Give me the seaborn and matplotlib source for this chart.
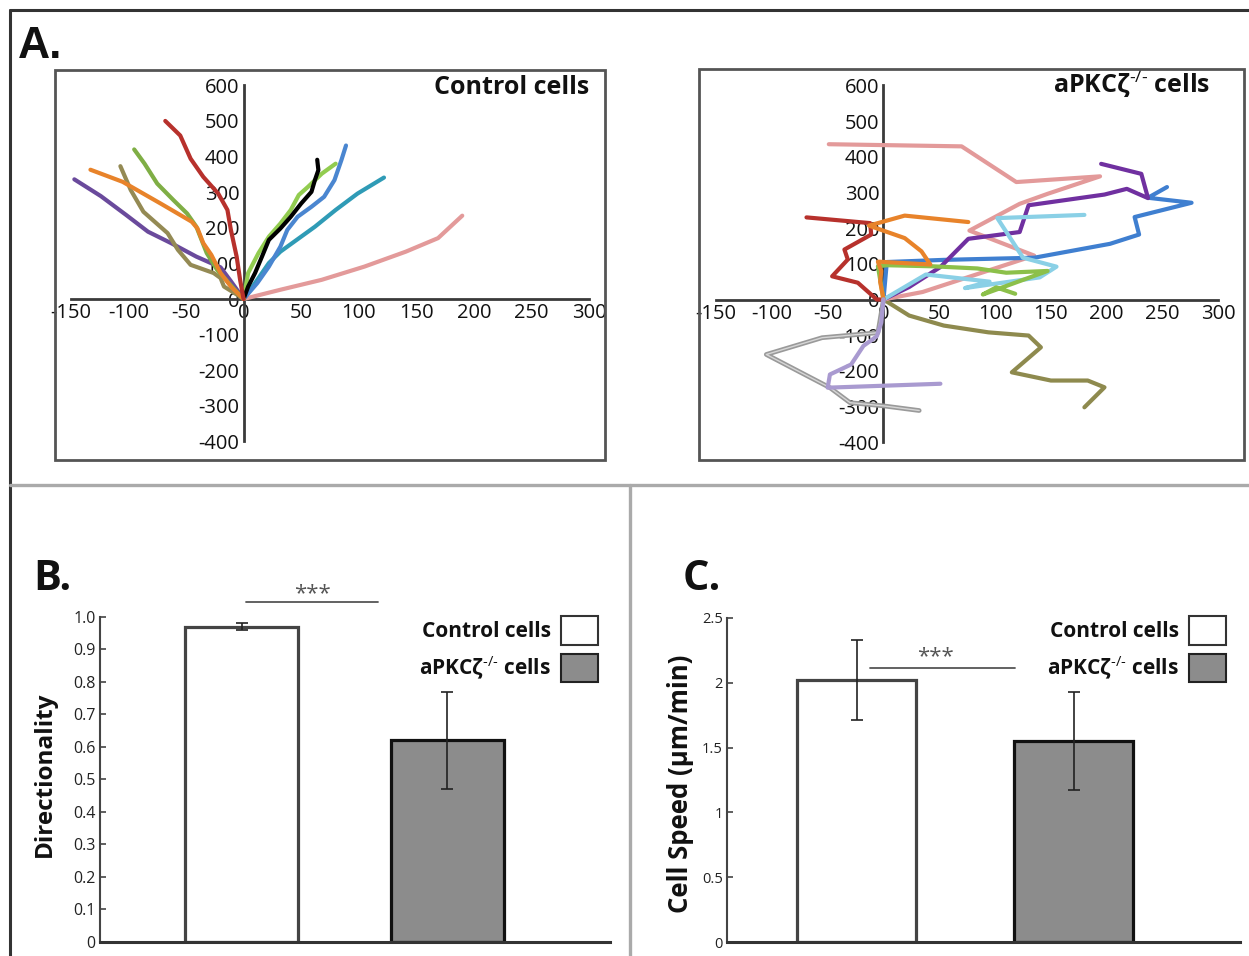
import matplotlib
matplotlib.use("Agg")
import matplotlib.pyplot as plt
import numpy as np
import seaborn as sns
from matplotlib.patches import Patch, Rectangle
from matplotlib.lines import Line2D

## Data
# control cell tracks (x, y in um), read off panel A left
c_red = [(0, 0), (-3, 54), (-6, 119), (-11, 194), (-14, 250), (-22, 296), (-35, 343), (-46, 394), (-55, 459), (-68, 500)]
c_orange = [(0, 0), (-11, 35), (-20, 73), (-28, 124), (-35, 157), (-40, 198), (-45, 217), (-72, 268), (-105, 329), (-133, 363)]
c_green = [(0, 0), (-9, 31), (-23, 82), (-32, 129), (-41, 203), (-49, 240), (-61, 278), (-75, 324), (-86, 380), (-95, 420)]
c_khaki = [(0, 0), (-8, 17), (-17, 35), (-20, 59), (-26, 73), (-46, 96), (-57, 138), (-66, 185), (-87, 245), (-98, 306), (-107, 373)]
c_purple = [(0, 0), (-11, 50), (-20, 89), (-41, 119), (-63, 157), (-83, 189), (-102, 236), (-124, 289), (-147, 336)]
c_black = [(0, 0), (4, 35), (10, 73), (16, 119), (22, 166), (32, 198), (41, 231), (50, 268), (59, 301), (62, 334), (65, 362), (64, 391)]
c_lime = [(0, 0), (4, 73), (13, 129), (22, 175), (32, 212), (41, 250), (48, 292), (56, 315), (68, 352), (80, 380)]
c_blue = [(0, 0), (12, 45), (22, 91), (32, 147), (38, 194), (47, 231), (59, 259), (70, 287), (79, 334), (85, 390), (89, 431)]
c_teal = [(0, 0), (10, 45), (22, 101), (32, 133), (50, 175), (62, 203), (80, 250), (99, 296), (122, 341)]
c_pink = [(0, 0), (32, 26), (68, 54), (105, 91), (141, 133), (169, 171), (190, 234)]

# aPKCzeta-/- cell tracks, panel A right
a_pink = [(0, 0), (35, 21), (85, 72), (135, 123), (77, 193), (122, 268), (147, 296), (194, 345), (119, 329), (70, 429), (-49, 435)]
a_purple = [(0, 0), (23, 35), (51, 91), (76, 170), (122, 189), (130, 264), (198, 294), (218, 310), (237, 284), (231, 352), (195, 380)]
a_blue = [(0, 0), (3, 105), (54, 111), (135, 117), (203, 156), (229, 182), (225, 231), (276, 271), (237, 285), (254, 315)]
a_cyan = [(0, 0), (38, 70), (95, 50), (73, 32), (140, 62), (155, 92), (125, 117), (102, 228), (180, 237)]
a_red = [(0, 0), (-6, 0), (-23, 47), (-46, 65), (-32, 112), (-35, 140), (-11, 182), (-12, 214), (-69, 230)]
a_orange = [(0, 0), (-3, 50), (-2, 80), (-5, 106), (42, 98), (34, 135), (19, 172), (-13, 207), (19, 235), (76, 217)]
a_green = [(0, 0), (-5, 93), (3, 96), (44, 93), (84, 87), (110, 75), (147, 80), (89, 14), (101, 34), (118, 16)]
a_olive = [(0, 0), (23, -45), (54, -73), (94, -92), (130, -101), (141, -134), (115, -204), (150, -227), (183, -227), (198, -246), (180, -302)]
a_gray = [(0, 0), (-5, -93), (-55, -107), (-105, -154), (-48, -247), (-30, -289), (0, -298), (32, -311)]
a_lavender = [(0, 0), (-2, -65), (-6, -103), (-18, -130), (-29, -182), (-48, -210), (-50, -247), (51, -236)]

track_xticks = [-150, -100, -50, 0, 50, 100, 150, 200, 250, 300]
track_yticks = [-400, -300, -200, -100, 0, 100, 200, 300, 400, 500, 600]

# panels B and C
groups = ["Control cells", "aPKCζ-/- cells"]
directionality = [0.97, 0.62]
directionality_err = [0.01, 0.15]
speed = [2.02, 1.55]
speed_err = [0.31, 0.38]
dir_ticks = [0, 0.1, 0.2, 0.3, 0.4, 0.5, 0.6, 0.7, 0.8, 0.9, 1.0]
dir_labels = ["0", "0.1", "0.2", "0.3", "0.4", "0.5", "0.6", "0.7", "0.8", "0.9", "1.0"]
speed_ticks = [0, 0.5, 1, 1.5, 2, 2.5]
speed_labels = ["0", "0.5", "1", "1.5", "2", "2.5"]

KO_LABEL = r"aPKCζ$^{\text{-/-}}$ cells"

## Style
sns.set_theme(style="white")
plt.rcParams["font.family"] = ["Open Sans", "DejaVu Sans"]
plt.rcParams["mathtext.fontset"] = "custom"
plt.rcParams["mathtext.rm"] = "Open Sans"
plt.rcParams["mathtext.default"] = "regular"
plt.rcParams["axes.unicode_minus"] = False
plt.rcParams["text.color"] = "#111111"

W, H = 1249, 956
fig = plt.figure(figsize=(W / 100, H / 100), dpi=100)


def box(x0, y0, x1, y1):
    # pixel box (top-left origin) -> figure fraction rect
    return [x0 / W, 1 - y1 / H, (x1 - x0) / W, (y1 - y0) / H]


def track_axes(px):
    ax = fig.add_axes(box(*px))
    ax.patch.set_visible(False)
    fig.add_artist(Rectangle((px[0] / W, 1 - px[3] / H), (px[2] - px[0]) / W, (px[3] - px[1]) / H,
                             transform=fig.transFigure, fill=False, ec="#555555", lw=2))
    return ax


def style_track_axes(ax, xlim, ylim):
    ax.set_xlim(xlim)
    ax.set_ylim(ylim)
    ax.set_xlabel("")
    ax.set_ylabel("")
    ax.spines["top"].set_visible(False)
    ax.spines["right"].set_visible(False)
    ax.spines["left"].set_position(("data", 0))
    ax.spines["bottom"].set_position(("data", 0))
    ax.spines["left"].set_bounds(-400, 600)
    ax.spines["bottom"].set_bounds(-150, 300)
    for s in ["left", "bottom"]:
        ax.spines[s].set_color("#3a3a3a")
        ax.spines[s].set_linewidth(2)
        ax.spines[s].set_zorder(1)
    ax.set_xticks(track_xticks)
    ax.set_yticks(track_yticks)
    ax.tick_params(direction="in", length=4, width=1.5, color="#3a3a3a",
                   labelsize=14.5, pad=3, labelcolor="#111111")


def draw_tracks(ax, tracks, colors):
    for pts, col in zip(tracks, colors):
        xs = [p[0] for p in pts]
        ys = [p[1] for p in pts]
        sns.lineplot(x=xs, y=ys, sort=False, estimator=None, color=col,
                     linewidth=3, ax=ax, zorder=3)


## A. tracks
axL = track_axes((55, 70, 605, 460))
draw_tracks(axL,
            [c_pink, c_teal, c_blue, c_lime, c_black, c_purple, c_khaki, c_green, c_orange, c_red],
            ["#e39a9a", "#2f9bb6", "#4a86d0", "#92cc50", "#000000", "#6a4a9c", "#948a54", "#7fae45", "#e8832a", "#b7312c"])
style_track_axes(axL, (-163.8, 314), (-452, 643))
axL.text(0.971, 0.956, "Control cells", transform=axL.transAxes, ha="right", va="center",
         fontsize=18, fontweight="bold")

axR = track_axes((699, 69, 1244, 460))
draw_tracks(axR,
            [a_olive, a_pink, a_blue, a_purple, a_cyan, a_green, a_red, a_orange],
            ["#8e8a4e", "#e39a9a", "#3f7fd0", "#7030a0", "#8ad0e6", "#8cc04a", "#b7312c", "#e8832a"])
# gray track drawn as a double line
gx = [p[0] for p in a_gray]
gy = [p[1] for p in a_gray]
sns.lineplot(x=gx, y=gy, sort=False, estimator=None, color="#9a9a9a", linewidth=3.4, ax=axR, zorder=3)
sns.lineplot(x=gx, y=gy, sort=False, estimator=None, color="#d6d6d6", linewidth=1.0, ax=axR, zorder=3)
lx = [p[0] for p in a_lavender]
ly = [p[1] for p in a_lavender]
sns.lineplot(x=lx, y=ly, sort=False, estimator=None, color="#a99ad0", linewidth=3, ax=axR, zorder=3)
style_track_axes(axR, (-165.3, 323), (-449.6, 645.7))
axR.text(0.938, 0.962, KO_LABEL, transform=axR.transAxes, ha="right", va="center",
         fontsize=18, fontweight="bold")


## B. and C. bars
def bar_panel(px, values, errs, ticks, labels, xlim, ylim, tick_size):
    ax = fig.add_axes(box(*px))
    sns.barplot(x=groups, y=values, hue=groups, palette=["white", "#8c8c8c"],
                saturation=1, width=0.55, legend=False, ax=ax)
    for patch, ec in zip(ax.patches, ["#444444", "#111111"]):
        patch.set_edgecolor(ec)
        patch.set_linewidth(2.3)
    ax.errorbar([0, 1], values, yerr=errs, fmt="none", ecolor="#222222",
                elinewidth=1.2, capsize=4, capthick=1.2, zorder=4)
    ax.set_xlim(xlim)
    ax.set_ylim(ylim)
    ax.set_xticks([])
    ax.set_yticks(ticks)
    ax.set_yticklabels(labels)
    ax.set_xlabel("")
    ax.set_ylabel("")
    ax.spines["top"].set_visible(False)
    ax.spines["right"].set_visible(False)
    ax.spines["left"].set_bounds(0, ticks[-1])
    ax.spines["left"].set_color("#444444")
    ax.spines["left"].set_linewidth(1.5)
    ax.spines["bottom"].set_color("#333333")
    ax.spines["bottom"].set_linewidth(2.2)
    ax.tick_params(axis="y", direction="in", length=4, width=1.2, color="#444444",
                   labelsize=tick_size, pad=3, labelcolor="#222222", left=True)
    handles = [Patch(facecolor="white", edgecolor="#333333", linewidth=1.5),
               Patch(facecolor="#8c8c8c", edgecolor="#222222", linewidth=1.5)]
    ax.legend(handles, ["Control cells", KO_LABEL], loc="upper right",
              bbox_to_anchor=((px[2] - 12) / W if px[0] < 600 else (px[2] - 14) / W, 1 - 616 / H),
              bbox_transform=fig.transFigure,
              markerfirst=False, frameon=False, prop={"weight": "bold", "size": 15},
              handlelength=1.8, handleheight=1.75, handletextpad=0.45, labelspacing=0.42,
              borderpad=0, borderaxespad=0)
    return ax


axB = bar_panel((100, 560, 610, 942), directionality, directionality_err,
                dir_ticks, dir_labels, (-0.687, 1.789), (0, 1.175), 11.5)
axB.plot([0.022, 0.663], [1.046, 1.046], color="#555555", lw=1.3, clip_on=False)
axB.text(0.342, 1.072, "***", ha="center", va="center", fontsize=16, color="#555555")

axC = bar_panel((727, 560, 1240, 942), speed, speed_err,
                speed_ticks, speed_labels, (-0.597, 1.767), (0, 2.947), 10.5)
axC.plot([0.062, 0.73], [2.114, 2.114], color="#555555", lw=1.3, clip_on=False)
axC.text(0.362, 2.2, "***", ha="center", va="center", fontsize=16, color="#555555")

fig.text(45 / W, 1 - 774 / H, "Directionality", rotation=90, ha="center", va="center",
         fontsize=17.5, fontweight="bold")
fig.text(680 / W, 1 - 784 / H, "Cell Speed (μm/min)", rotation=90, ha="center", va="center",
         fontsize=18.5, fontweight="bold")

## Panel letters and frame lines
fig.text(18 / W, 1 - 58 / H, "A.", fontsize=32, fontweight="bold",
         family=["Liberation Sans", "DejaVu Sans"], va="baseline")
fig.text(33 / W, 1 - 590 / H, "B.", fontsize=30, fontweight="bold", va="baseline")
fig.text(683 / W, 1 - 590 / H, "C.", fontsize=30, fontweight="bold", va="baseline")

fig.add_artist(Line2D([10 / W, 1], [1 - 10 / H] * 2, transform=fig.transFigure, color="#333333", lw=2.2))
fig.add_artist(Line2D([10 / W] * 2, [0, 1 - 10 / H], transform=fig.transFigure, color="#333333", lw=2.2))
fig.add_artist(Line2D([10 / W, 1], [1 - 485 / H] * 2, transform=fig.transFigure, color="#aaaaaa", lw=2.4))
fig.add_artist(Line2D([630 / W] * 2, [0, 1 - 485 / H], transform=fig.transFigure, color="#aaaaaa", lw=2.4))

fig.savefig("out.png", dpi=100)
